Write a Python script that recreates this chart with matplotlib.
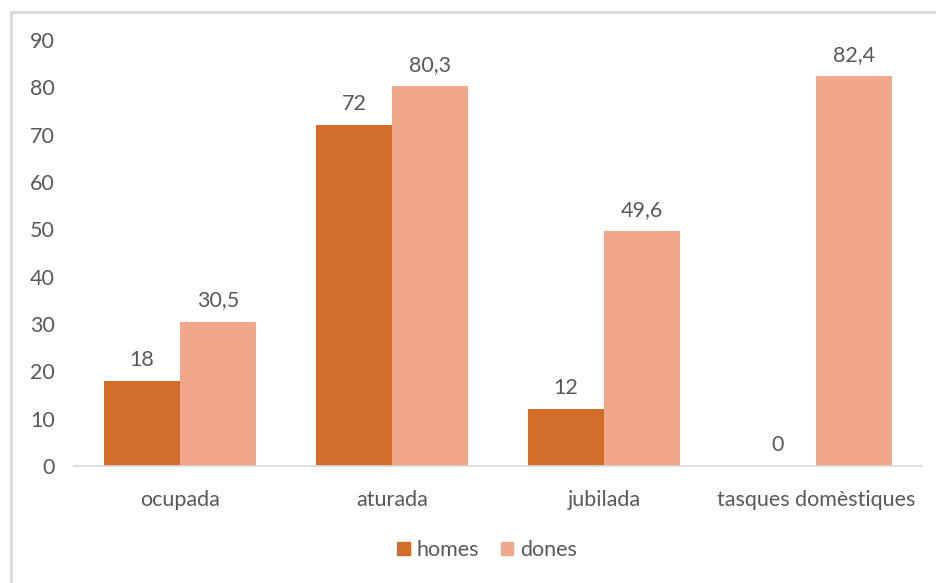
import matplotlib
matplotlib.use("Agg")
import matplotlib.pyplot as plt
import numpy as np
from matplotlib.patches import Patch
from matplotlib.lines import Line2D

categories = ["ocupada", "aturada", "jubilada", "tasques domèstiques"]
homes = [18, 72, 12, 0]
dones = [30.5, 80.3, 49.6, 82.4]
series_names = ["homes", "dones"]
yticks = [0, 10, 20, 30, 40, 50, 60, 70, 80, 90]

c_homes = "#D26E2A"
c_dones = "#F0A78A"
txt = "#595959"
font = "Lato"
fs = 15.5

fig = plt.figure(figsize=(9.37, 5.83), dpi=100)
ax = fig.add_axes([74/937, 117/583, (922-74)/937, (466-40)/583])

x = np.arange(len(categories))
w = 0.36
b1 = ax.bar(x - w/2, homes, w, color=c_homes, label=series_names[0])
b2 = ax.bar(x + w/2, dones, w, color=c_dones, label=series_names[1])

def fmt(v):
    s = ("%g" % v).replace(".", ",")
    return s

for bars, vals in ((b1, homes), (b2, dones)):
    for r, v in zip(bars, vals):
        ax.annotate(fmt(v), (r.get_x() + r.get_width()/2, v), xytext=(0, 8),
                    textcoords="offset points", ha="center", va="bottom",
                    color=txt, fontsize=fs, family=font)

ax.set_xlim(-0.5, 3.5)
ax.set_ylim(0, 90)
ax.set_yticks(yticks)
ax.set_yticklabels([str(t) for t in yticks], family=font, fontsize=fs, color=txt)
ax.set_xticks(x)
ax.set_xticklabels(categories, family=font, fontsize=fs, color=txt)
ax.tick_params(axis="both", length=0)
ax.tick_params(axis="y", pad=14)
ax.tick_params(axis="x", pad=17)
for s in ("top", "right", "left"):
    ax.spines[s].set_visible(False)
ax.spines["bottom"].set_color("#D9D9D9")
ax.spines["bottom"].set_linewidth(1.2)

handles = [Patch(color=c_homes), Patch(color=c_dones)]
leg = fig.legend(handles, series_names, loc="center", bbox_to_anchor=(487/937, 1 - 550/583),
                 ncol=2, frameon=False, prop={"family": font, "size": fs},
                 handlelength=0.6, handleheight=0.6, handletextpad=0.3, columnspacing=1.0)
for t in leg.get_texts():
    t.set_color(txt)

# chart border (top and left visible)
fig.add_artist(Line2D([11/937, 11/937], [0, 1 - 12/583], transform=fig.transFigure, color="#D9D9D9", lw=2))
fig.add_artist(Line2D([11/937, 1], [1 - 12/583, 1 - 12/583], transform=fig.transFigure, color="#D9D9D9", lw=2))

fig.savefig("out.png", dpi=100)
